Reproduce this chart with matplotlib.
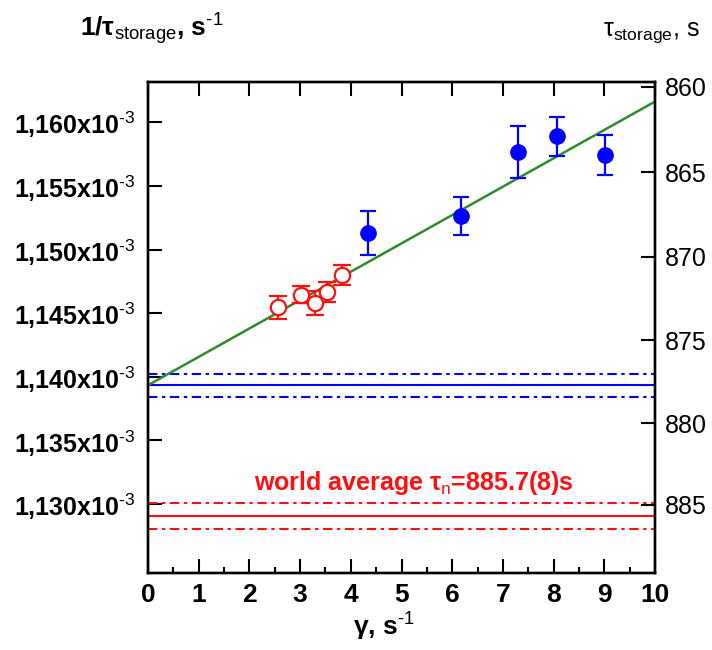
import matplotlib
matplotlib.use("Agg")
import matplotlib.pyplot as plt
import numpy as np

plt.rcParams['font.family'] = ['Liberation Sans', 'DejaVu Sans']
plt.rcParams['mathtext.fontset'] = 'custom'
plt.rcParams['mathtext.rm'] = 'Liberation Sans'
plt.rcParams['mathtext.it'] = 'Liberation Sans:italic'
plt.rcParams['mathtext.bf'] = 'Liberation Sans:bold'

# Storage-rate measurements, 1/tau in units of 10^-3 s^-1 versus loss factor gamma (s^-1)
gamma_red = [2.56, 3.01, 3.29, 3.54, 3.83]
inv_tau_red = [1.14547, 1.14646, 1.14581, 1.14664, 1.14802]
err_red = [0.00090, 0.00068, 0.00094, 0.00078, 0.00078]

gamma_blue = [4.34, 6.18, 7.29, 8.06, 9.02]
inv_tau_blue = [1.15127, 1.15263, 1.15766, 1.15888, 1.15745]
err_blue = [0.00172, 0.00148, 0.00203, 0.00156, 0.00157]

# Linear extrapolation to gamma = 0 and the world-average lifetime (s)
tau_extrap = 877.7
tau_extrap_err = 0.7
fit_slope = 0.002228          # 10^-3 s^-1 per s^-1
tau_world = 885.7
tau_world_err = 0.8

left_ticks = [1.130, 1.135, 1.140, 1.145, 1.150, 1.155, 1.160]
left_labels = [r"1,130x10$^{\text{-}3}$", r"1,135x10$^{\text{-}3}$", r"1,140x10$^{\text{-}3}$",
               r"1,145x10$^{\text{-}3}$", r"1,150x10$^{\text{-}3}$", r"1,155x10$^{\text{-}3}$",
               r"1,160x10$^{\text{-}3}$"]
right_taus = [860, 865, 870, 875, 880, 885]
x_ticks = [0, 1, 2, 3, 4, 5, 6, 7, 8, 9, 10]

W, H = 712, 650
fig = plt.figure(figsize=(W / 100, H / 100), dpi=100)
ax = fig.add_axes([148 / W, 1 - 573 / H, (655 - 148) / W, (573 - 82) / H])

ylo, yhi = 1.12459, 1.16316
ax.set_xlim(0, 10)
ax.set_ylim(ylo, yhi)

blue = '#0000ff'
red = '#ff1010'
green = '#2e8b2e'
dashdot = (0, (4.5, 2.2, 1.6, 2.2))

# reference lifetimes as horizontal bands
inv = lambda t: 1000.0 / t
ax.axhline(inv(tau_extrap), color=blue, lw=1.5, zorder=2)
ax.axhline(inv(tau_extrap - tau_extrap_err), color=blue, lw=1.5, ls=dashdot, zorder=2)
ax.axhline(inv(tau_extrap + tau_extrap_err), color=blue, lw=1.5, ls=dashdot, zorder=2)
ax.axhline(inv(tau_world), color=red, lw=1.5, zorder=2)
ax.axhline(inv(tau_world - tau_world_err), color=red, lw=1.5, ls=dashdot, zorder=2)
ax.axhline(inv(tau_world + tau_world_err), color=red, lw=1.5, ls=dashdot, zorder=2)

# fitted line
xs = np.array([0.0, 10.0])
ax.plot(xs, inv(tau_extrap) + fit_slope * xs, color=green, lw=1.8, zorder=3)

ax.errorbar(gamma_red, inv_tau_red, yerr=err_red, fmt='o', mfc='white', mec=red,
            ecolor=red, ms=11, mew=1.6, elinewidth=1.6, capsize=6.5, capthick=1.6, zorder=4)
ax.errorbar(gamma_blue, inv_tau_blue, yerr=err_blue, fmt='o', mfc=blue, mec=blue,
            ecolor=blue, ms=11, elinewidth=1.6, capsize=6, capthick=1.6, zorder=5)

ax.text(5.25, 1.13111, "world average τ$_{\\mathrm{n}}$=885.7(8)s", color=red,
        fontsize=18, fontweight='bold', ha='center', va='baseline')

# axes styling
for s in ax.spines.values():
    s.set_linewidth(1.7)
ax.set_xticks(x_ticks)
ax.set_xticklabels([str(v) for v in x_ticks], fontsize=19, fontweight='bold')
ax.set_xticks(np.arange(0.5, 10, 1.0), minor=True)
ax.set_yticks(left_ticks)
ax.set_yticklabels(left_labels, fontsize=18, fontweight='bold')
ax.tick_params(axis='x', which='major', direction='in', length=10, width=1.5, top=True, pad=7)
ax.tick_params(axis='x', which='minor', direction='in', length=4, width=1.5, top=False)
ax.tick_params(axis='y', which='major', direction='in', length=10, width=1.5, pad=9)

ax2 = ax.twinx()
ax2.set_ylim(ylo, yhi)
ax2.set_yticks([inv(t) for t in right_taus])
ax2.set_yticklabels([str(t) for t in right_taus], fontsize=18)
ax2.tick_params(axis='y', direction='in', length=10, width=1.5, pad=7)
for s in ax2.spines.values():
    s.set_linewidth(1.7)

fig.text(80 / W, 1 - 36 / H, "1/τ$_{\\mathrm{storage}}$, s$^{\\text{-}1}$", fontsize=19,
         fontweight='bold', ha='left', va='baseline')
fig.text(700 / W, 1 - 36 / H, "τ$_{\\mathrm{storage}}$, s", fontsize=18,
         ha='right', va='baseline')
fig.text(384 / W, 1 - 636 / H, "γ, s$^{\\text{-}1}$", fontsize=19, fontweight='bold',
         ha='center', va='baseline')

fig.savefig("out.png", dpi=100, facecolor='white')
